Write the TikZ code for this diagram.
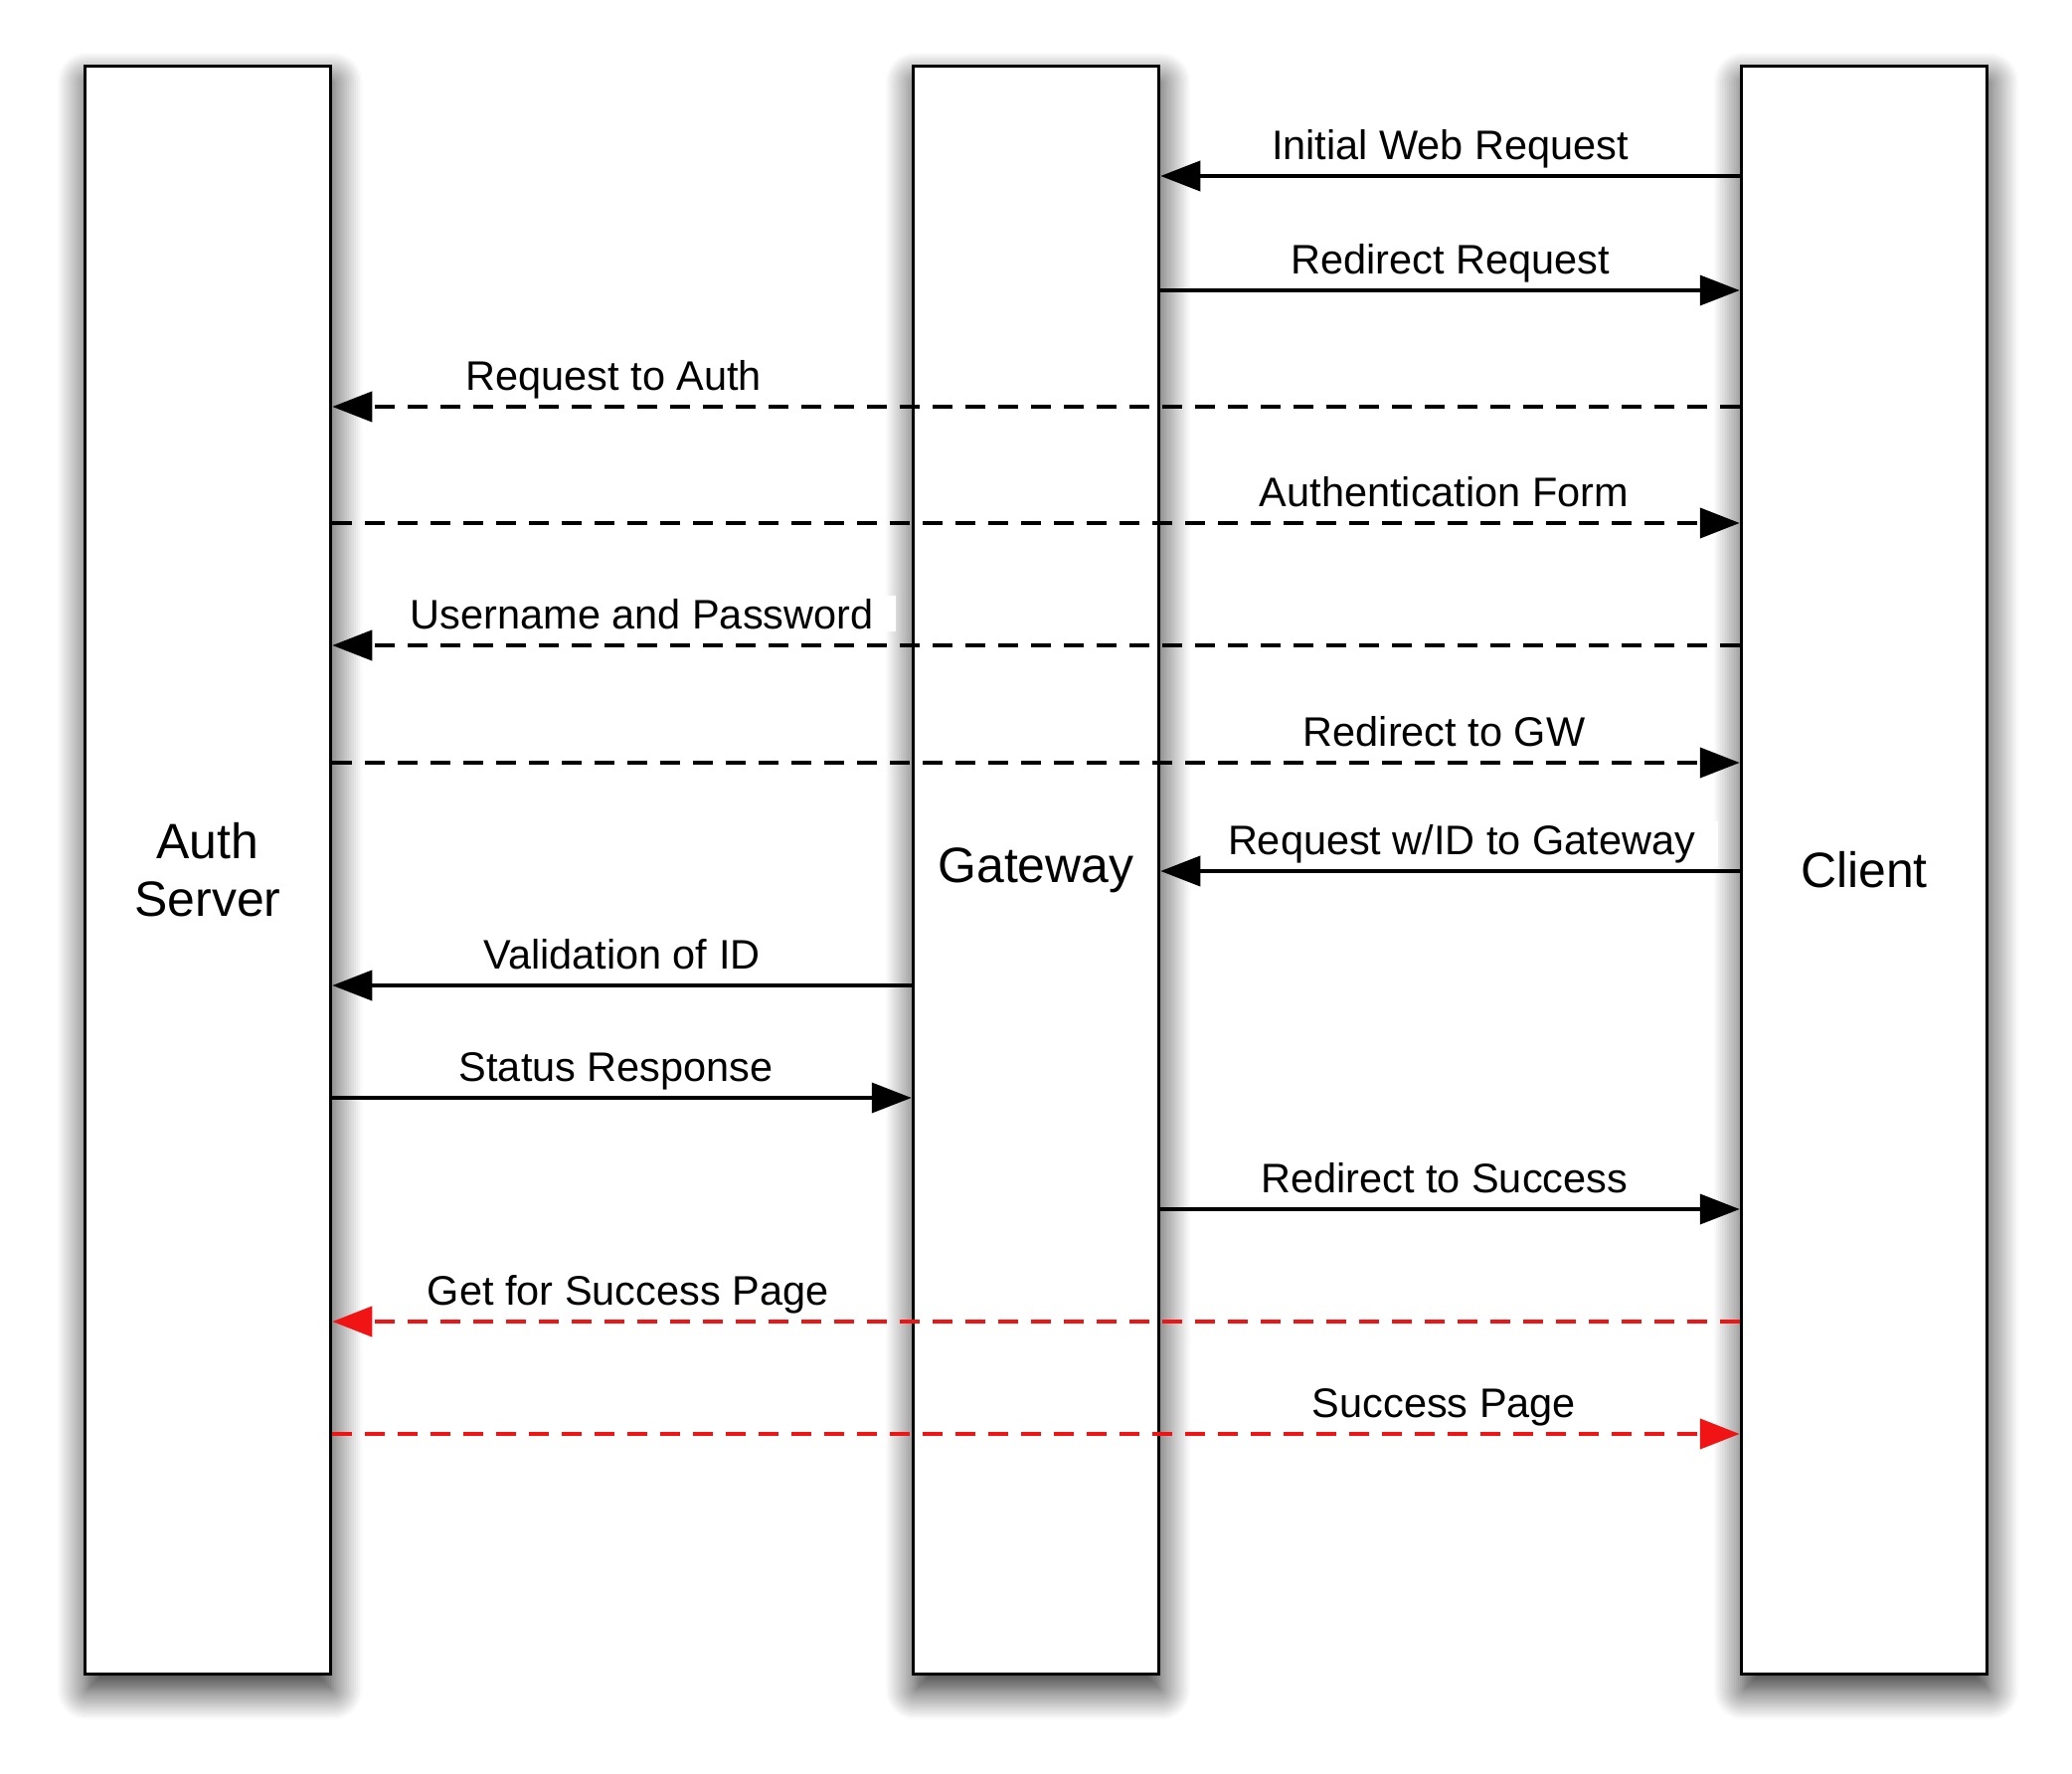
\documentclass[tikz,border=0pt]{standalone}
\usepackage{fontspec}
\setmainfont{Liberation Sans}
\usepackage{tikz}
\usetikzlibrary{arrows.meta,positioning,shadows.blur}
\definecolor{msgred}{RGB}{240,20,20}

\begin{document}
\begin{tikzpicture}[node distance=8.33cm,on grid,
    lifeline/.style={draw,line width=1pt,fill=white,minimum width=2.47cm,minimum height=16.17cm,
      align=center,font=\fontsize{14.2}{16.5}\selectfont,
      blur shadow={shadow xshift=0.02cm,shadow yshift=-0.16cm,shadow blur radius=0.3cm,
        shadow blur steps=14,shadow opacity=85}},
    msg/.style={line width=1.1pt,-{Triangle[length=4mm,width=3mm]}},
    reply/.style={msg,line width=1.2pt,dash pattern=on 2mm off 1.3mm},
    lbl/.style={anchor=base,yshift=1.7mm,fill=white,inner xsep=2.3mm,inner ysep=0.3mm,
      font=\fontsize{11.8}{14}\selectfont}]

	\useasboundingbox (0,0) rectangle (20.84,-17.84);

	\node[lifeline] (auth) at (2.09,-8.75) {Auth\\Server};
	\node[lifeline] (gw) [right=of auth] {Gateway};
	\node[lifeline] (client) [right=of gw] {Client};

	% one row per message
	\foreach \n/\y in {1/1.77,2/2.92,3/4.09,4/5.26,5/6.49,6/7.67,7/8.76,8/9.91,9/11.04,10/12.16,11/13.29,12/14.42}
		\coordinate (m\n) at (0,-\y);

	\path
		(client.west |- m1) edge[msg] node[lbl] {Initial Web Request} (gw.east |- m1)
		(gw.east |- m2) edge[msg] node[lbl] {Redirect Request} (client.west |- m2)
		(client.west |- m3) edge[reply] node[lbl,pos=.8] {Request to Auth} (auth.east |- m3)
		(auth.east |- m4) edge[reply] node[lbl,pos=.79] {Authentication Form} (client.west |- m4)
		(client.west |- m5) edge[reply] node[lbl,pos=.78] {Username and Password} (auth.east |- m5)
		(auth.east |- m6) edge[reply] node[lbl,pos=.79] {Redirect to GW} (client.west |- m6)
		(client.west |- m7) edge[msg] node[lbl,pos=.48] {Request w/ID to Gateway} (gw.east |- m7)
		(gw.west |- m8) edge[msg] node[lbl] {Validation of ID} (auth.east |- m8)
		(auth.east |- m9) edge[msg] node[lbl,pos=.49] {Status Response} (gw.west |- m9)
		(gw.east |- m10) edge[msg] node[lbl,pos=.49] {Redirect to Success} (client.west |- m10)
		(client.west |- m11) edge[reply,msgred] node[lbl,text=black,pos=.79] {Get for Success Page} (auth.east |- m11)
		(auth.east |- m12) edge[reply,msgred] node[lbl,text=black,pos=.79] {Success Page} (client.west |- m12)
	;
\end{tikzpicture}
\end{document}
